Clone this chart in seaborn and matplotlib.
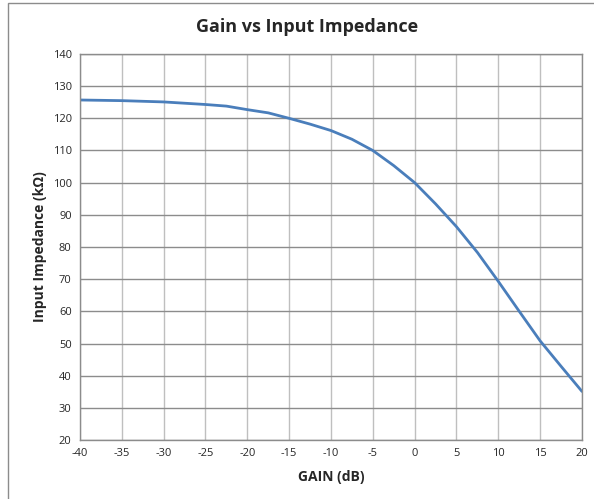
import pandas as pd
import matplotlib.pyplot as plt
import seaborn as sns
from matplotlib.patches import Rectangle

# dados
gain_db = [-40, -37.5, -35, -32.5, -30, -27.5, -25, -22.5, -20, -17.5, -15, -12.5,
           -10, -7.5, -5, -2.5, 0, 2.5, 5, 7.5, 10, 12.5, 15, 17.5, 20]
impedance_kohm = [125.7, 125.6, 125.5, 125.3, 125.1, 124.7, 124.3, 123.8, 122.7, 121.7,
                  120.0, 118.2, 116.2, 113.5, 110.0, 105.3, 100.0, 93.4, 86.3, 78.3,
                  69.3, 60.0, 50.8, 42.9, 35.1]
x_ticks = list(range(-40, 25, 5))
y_ticks = list(range(20, 150, 10))

df = pd.DataFrame({'Gain': gain_db, 'Impedance': impedance_kohm})

sns.set_theme(style="white")
plt.rcParams['font.family'] = ['Open Sans', 'DejaVu Sans']

fig = plt.figure(figsize=(5.94, 4.99), dpi=100)
ax = fig.add_axes([80 / 594, 1 - 440 / 499, 502 / 594, 386 / 499])

sns.lineplot(x='Gain', y='Impedance', data=df, ax=ax, color='#4A7EBB', linewidth=2)

ax.set_xlim(-40, 20)
ax.set_ylim(20, 140)
ax.set_xticks(x_ticks)
ax.set_yticks(y_ticks)
ax.set_xticklabels([str(t) for t in x_ticks], fontsize=8)
ax.set_yticklabels([str(t) for t in y_ticks], fontsize=8)
ax.tick_params(length=0, pad=6)
ax.grid(axis='y', color='#8c8c8c', linewidth=1)
ax.grid(axis='x', color='#bfbfbf', linewidth=1)
for s in ax.spines.values():
    s.set_color('#8c8c8c')
    s.set_linewidth(1)

ax.set_xlabel('GAIN (dB)', fontsize=10, fontweight='bold', labelpad=8)
ax.set_ylabel('Input Impedance (kΩ)', fontsize=10, fontweight='bold', labelpad=4)
fig.text(0.517, 1 - 27 / 499, 'Gain vs Input Impedance', ha='center', va='center',
         fontsize=13, fontweight='bold')

# moldura da área do gráfico
fig.patches.append(Rectangle((8 / 594, -0.01), 1, 1 - 3 / 499 + 0.01, transform=fig.transFigure,
                             fill=False, edgecolor='#8c8c8c', linewidth=1))

fig.savefig('out.png', dpi=100)
